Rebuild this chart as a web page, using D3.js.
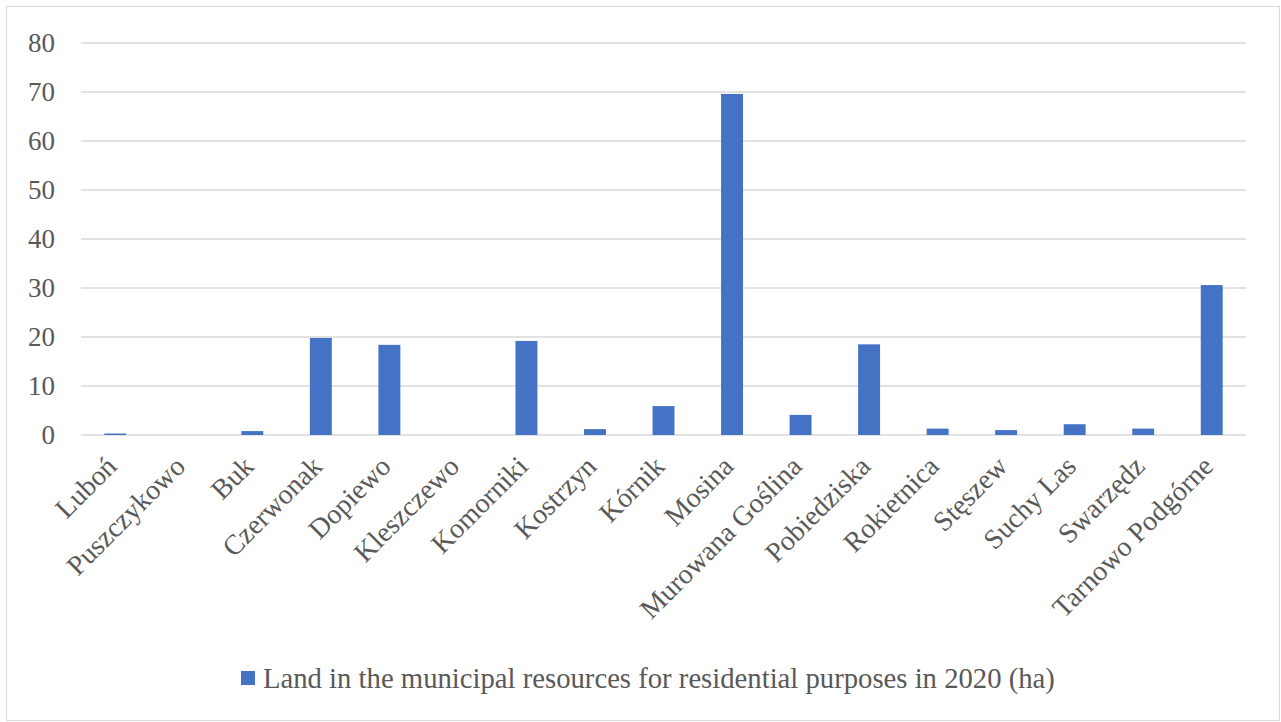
<!DOCTYPE html>
<html><head><meta charset="utf-8">
<script src="https://cdn.jsdelivr.net/npm/d3@7"></script>
<style>body{margin:0;background:#fff;}svg{display:block;font-family:"Liberation Serif","DejaVu Serif",serif;}</style>
</head><body>
<script>
const categories = ["Luboń","Puszczykowo","Buk","Czerwonak","Dopiewo","Kleszczewo","Komorniki","Kostrzyn","Kórnik","Mosina","Murowana Goślina","Pobiedziska","Rokietnica","Stęszew","Suchy Las","Swarzędz","Tarnowo Podgórne"];
const values = [0.3,0,0.8,19.8,18.4,0,19.2,1.2,5.9,69.6,4.1,18.5,1.3,1.0,2.2,1.3,30.6];
const yTicks = [0,10,20,30,40,50,60,70,80];
const seriesName = "Land in the municipal resources for residential purposes in 2020 (ha)";

(function(){
const W=1281,H=722;
const svg=d3.select("body").append("svg").attr("width",W).attr("height",H);
svg.append("rect").attr("x",6.5).attr("y",6.5).attr("width",1273).attr("height",714).attr("fill","#fff").attr("stroke","#d9d9d9").attr("stroke-width",1);

const pL=81,pR=1246,pT=43,pB=435;
const x=d3.scaleBand().domain(categories).range([pL,pR]).paddingInner(0.68).paddingOuter(0.34);
const y=d3.scaleLinear().domain([0,80]).range([pB,pT]);

svg.append("g").selectAll("line").data(yTicks).join("line")
 .attr("x1",pL).attr("x2",pR).attr("y1",d=>y(d)).attr("y2",d=>y(d))
 .attr("stroke","#d9d9d9").attr("stroke-width",1.5);

svg.append("g").selectAll("text").data(yTicks).join("text")
 .attr("x",55).attr("y",d=>y(d)+9).attr("text-anchor","end")
 .attr("font-size",27).attr("fill","#595959").text(d=>d);

svg.append("g").selectAll("rect").data(values).join("rect")
 .attr("x",(d,i)=>x(categories[i])).attr("width",x.bandwidth())
 .attr("y",d=>y(d)).attr("height",d=>pB-y(d))
 .attr("fill","#4472c4");

svg.append("g").selectAll("text").data(categories).join("text")
 .attr("transform",d=>`translate(${x(d)+x.bandwidth()/2+3},${pB+33}) rotate(-45)`)
 .attr("text-anchor","end").attr("font-size",28).attr("fill","#595959").text(d=>d);

const lg=svg.append("g");
lg.append("rect").attr("x",241).attr("y",671).attr("width",14).attr("height",14).attr("fill","#4472c4");
lg.append("text").attr("x",263).attr("y",688).attr("font-size",28.7).attr("fill","#595959").text(seriesName);
})();
</script>
</body></html>
